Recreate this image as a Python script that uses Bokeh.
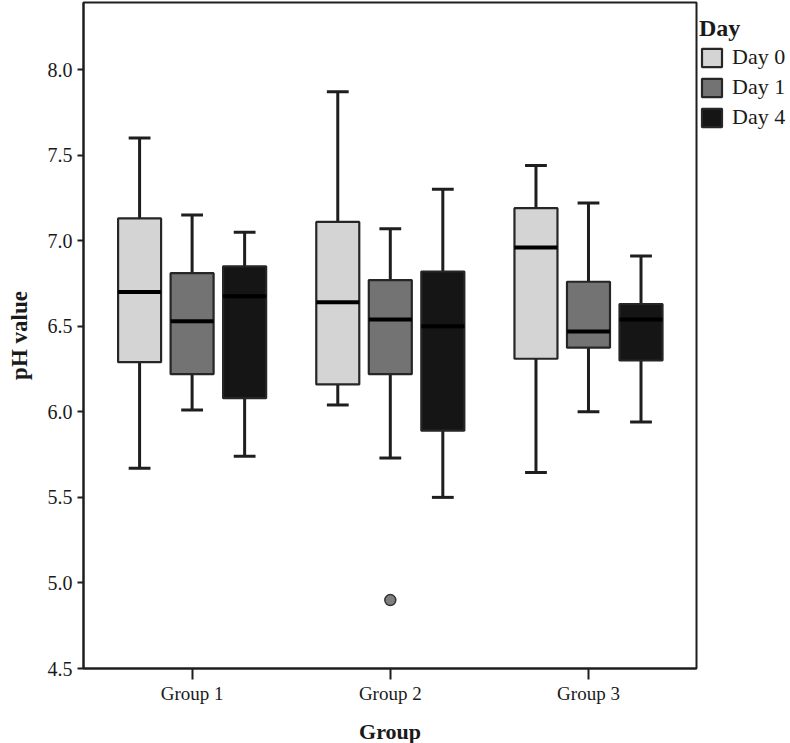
from bokeh.plotting import figure
from bokeh.models import (Range1d, FixedTicker, Legend, LegendItem,
                          ColumnDataSource, NumeralTickFormatter)
from bokeh.embed import file_html
from bokeh.resources import INLINE

# ---------------- data ----------------
groups = ["Group 1", "Group 2", "Group 3"]
days = ["Day 0", "Day 1", "Day 4"]

# rows: groups, columns: days
whisker_low = [[5.67, 6.01, 5.74],
               [6.04, 5.73, 5.50],
               [5.645, 6.00, 5.94]]
q1 = [[6.29, 6.22, 6.08],
      [6.16, 6.22, 5.89],
      [6.31, 6.375, 6.30]]
median = [[6.70, 6.53, 6.675],
          [6.64, 6.54, 6.50],
          [6.96, 6.47, 6.54]]
q3 = [[7.13, 6.81, 6.85],
      [7.11, 6.77, 6.82],
      [7.19, 6.76, 6.63]]
whisker_high = [[7.60, 7.15, 7.05],
                [7.87, 7.07, 7.30],
                [7.44, 7.22, 6.91]]

outlier_group = ["Group 2"]
outlier_day = ["Day 1"]
outlier_value = [4.90]

y_ticks = [4.5, 5.0, 5.5, 6.0, 6.5, 7.0, 7.5, 8.0]

# ---------------- styling ----------------
day_colors = ["#d4d4d4", "#737373", "#151515"]
dodge = [-0.265, 0.0, 0.265]
box_w = 0.217
cap_w = 0.11
FONT = "Liberation Serif"
INK = "#1e1e1e"

p = figure(frame_width=613, frame_height=666,
           output_backend="svg", toolbar_location=None,
           x_range=Range1d(0.452, 3.545), y_range=Range1d(4.5, 8.392),
           min_border_left=83, min_border_right=92, min_border_top=2,
           min_border_bottom=74)
p.xgrid.visible = False
p.ygrid.visible = False
p.outline_line_color = INK
p.outline_line_width = 2
p.background_fill_color = "white"
p.border_fill_color = "white"

box_renderers = []
for di, d in enumerate(days):
    xs = [gi + 1 + dodge[di] for gi in range(len(groups))]
    src = ColumnDataSource(dict(
        x=xs,
        lo=[whisker_low[gi][di] for gi in range(len(groups))],
        q1=[q1[gi][di] for gi in range(len(groups))],
        med=[median[gi][di] for gi in range(len(groups))],
        q3=[q3[gi][di] for gi in range(len(groups))],
        hi=[whisker_high[gi][di] for gi in range(len(groups))],
        bl=[x - box_w / 2 for x in xs],
        br=[x + box_w / 2 for x in xs],
        cl=[x - cap_w / 2 for x in xs],
        cr=[x + cap_w / 2 for x in xs],
    ))
    # whiskers
    p.segment(x0="x", y0="q3", x1="x", y1="hi", source=src,
              line_color=INK, line_width=3)
    p.segment(x0="x", y0="lo", x1="x", y1="q1", source=src,
              line_color=INK, line_width=3)
    # caps
    p.segment(x0="cl", y0="hi", x1="cr", y1="hi", source=src,
              line_color=INK, line_width=3)
    p.segment(x0="cl", y0="lo", x1="cr", y1="lo", source=src,
              line_color=INK, line_width=3)
    # box
    r = p.vbar(x="x", width=box_w, bottom="q1", top="q3", source=src,
               fill_color=day_colors[di], line_color="#262626", line_width=2.2)
    box_renderers.append(r)
    # median
    p.segment(x0="bl", y0="med", x1="br", y1="med", source=src,
              line_color="#000000", line_width=4)

# outlier
ox = [groups.index(g) + 1 + dodge[days.index(d)]
      for g, d in zip(outlier_group, outlier_day)]
p.scatter(x=ox, y=outlier_value, marker="circle", size=11,
          fill_color="#7f7f7f", line_color="#333333", line_width=1.5)

# axes
p.yaxis.ticker = FixedTicker(ticks=y_ticks)
p.yaxis.formatter = NumeralTickFormatter(format="0.0")
p.xaxis.ticker = FixedTicker(ticks=[1, 2, 3])
p.xaxis.major_label_overrides = {i + 1: g for i, g in enumerate(groups)}

for ax in (p.xaxis[0], p.yaxis[0]):
    ax.axis_line_color = INK
    ax.axis_line_width = 2
    ax.major_tick_line_color = INK
    ax.major_tick_line_width = 2
    ax.major_tick_in = 0
    ax.minor_tick_line_color = None
    ax.major_label_text_font = FONT
    ax.major_label_text_color = "#1a1a1a"
    ax.axis_label_text_font = FONT
    ax.axis_label_text_font_style = "bold"
    ax.axis_label_text_color = "#1a1a1a"

p.yaxis.major_tick_out = 6
p.yaxis.major_label_standoff = 5
p.yaxis.major_label_text_font_size = "20px"
p.yaxis.axis_label = "pH value"
p.yaxis.axis_label_text_font_size = "23px"
p.yaxis.axis_label_standoff = 13

p.xaxis.major_tick_out = 11
p.xaxis.major_label_standoff = 3
p.xaxis.major_label_text_font_size = "19px"
p.xaxis.axis_label = "Group"
p.xaxis.axis_label_text_font_size = "22px"
p.xaxis.axis_label_standoff = 12

legend = Legend(items=[LegendItem(label=d, renderers=[box_renderers[i]])
                       for i, d in enumerate(days)],
                location=(3, 538), title="Day",
                title_text_font=FONT, title_text_font_style="bold",
                title_text_font_size="24px", title_text_color="#1a1a1a",
                title_standoff=2,
                label_text_font=FONT, label_text_font_size="22px",
                label_text_color="#1a1a1a",
                glyph_width=25, glyph_height=23, label_standoff=8,
                spacing=4, padding=0, margin=0,
                border_line_color=None, background_fill_alpha=0)
p.add_layout(legend, "right")

open("out.html", "w").write(file_html(p, INLINE))
